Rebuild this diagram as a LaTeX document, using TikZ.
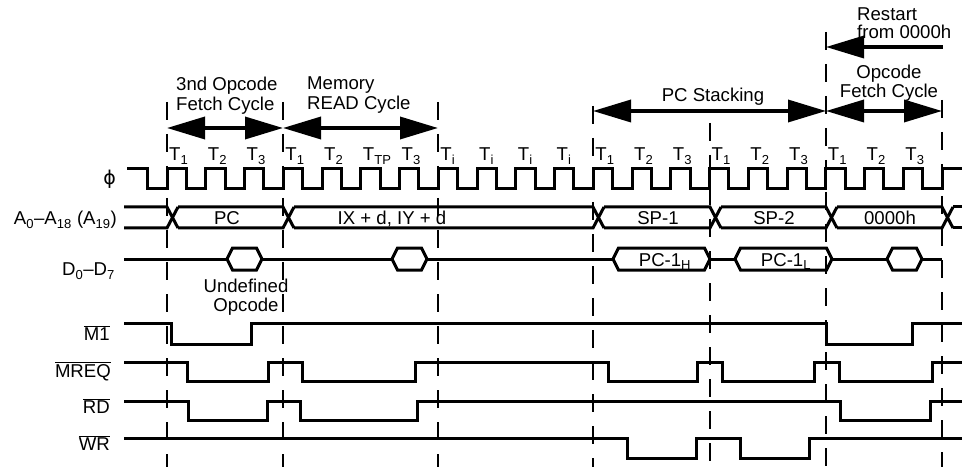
\documentclass[tikz,border=0pt]{standalone}
\usepackage{fontspec}
\setmainfont{Liberation Sans}
\newfontfamily\symfont{DejaVu Sans}
\usetikzlibrary{arrows.meta}

\tikzset{
  sig/.style={line width=3pt, line join=miter},
  dashline/.style={line width=2pt, dash pattern=on 18pt off 14pt},
  bigarrow/.style={line width=3.5pt, {Triangle[length=38pt,width=22pt]}-{Triangle[length=38pt,width=22pt]}},
  leftarrow/.style={line width=3.5pt, {Triangle[length=38pt,width=22pt]}-},
  every node/.style={inner sep=0pt, font=\fontsize{18.6}{19.5}\selectfont}
}

\begin{document}
\begin{tikzpicture}[x=1pt,y=-1pt]
\useasboundingbox (0,0) rectangle (962,468);

\def\xo{167}     % first T1 edge
\def\per{38.75}  % one T state
\pgfmathsetmacro\half{\per/2}
\def\tstates{1,2,3,1,2,TP,3,i,i,i,i,1,2,3,1,2,3,1,2,3}

% draw the cycle boundaries
\foreach \n/\ytop in {0/102,3/102,7/102,11/106,14/123,17/32,20/100}
{
\pgfmathsetmacro\cx{\xo+\n*\per}
\draw [dashline] (\cx,\ytop) -- (\cx,467);
}

% draw the clock
\draw [sig] (127,169) -- ({\xo-\half},169) -- ({\xo-\half},189) -- (\xo,189)
  \foreach \t in {0,...,19} { -- ({\xo+\t*\per},169) -- ({\xo+\t*\per+\half},169) -- ({\xo+\t*\per+\half},189) -- ({\xo+(\t+1)*\per},189) }
  -- ({\xo+20*\per},169) -- (962,169);

% label the T states
\foreach \s [count=\ni] in \tstates
{
\pgfmathsetmacro\cx{\xo+(\ni-1)*\per+2}
\node [anchor=base west] (T\ni) at (\cx,161) {T\textsubscript{\s}};
}

% signal names
\node [anchor=east] (phi) at (116,179) {\symfont\fontsize{19}{20}\selectfont ϕ};
\node [anchor=base east] (abus) at (117,225) {A\textsubscript{0}--A\textsubscript{18} (A\textsubscript{19})};
\node [anchor=base east] (dbus) at (115,276) {D\textsubscript{0}--D\textsubscript{7}};
\node [anchor=base east] (mone) at (110,340) {$\overline{\mbox{M1}}$};
\node [anchor=base east] (mreq) at (111,377) {$\overline{\mbox{MREQ}}$};
\node [anchor=base east] (rd) at (110,413) {$\overline{\mbox{RD}}$};
\node [anchor=base east] (wr) at (110,450) {$\overline{\mbox{WR}}$};

% draw the address bus
\foreach \a/\b in {124/167, 178/283, 294/593, 604/710, 721/826, 837/942}
\draw [sig] (\a,207) -- (\b,207) -- ({\b+11},228) (\a,228) -- (\b,228) -- ({\b+11},207);
\draw [sig] (953,207) -- (962,207) (953,228) -- (962,228);

\node [anchor=base] (pc) at (227,225) {PC};
\node [anchor=base] (ixiy) at (392,225) {IX + d, IY + d};
\node [anchor=base] (spone) at (658,225) {SP-1};
\node [anchor=base] (sptwo) at (774,225) {SP-2};
\node [anchor=base] (zero) at (890,225) {0000h};

% draw the data bus
\foreach \a/\b in {124/227, 262/392, 427/613, 710/735, 832/887, 922/942}
\draw [sig] (\a,259) -- (\b,259);
\foreach \a/\b in {227/262, 392/427, 613/710, 735/832, 887/922}
\draw [sig] (\a,259) -- ({\a+5.5},248) -- ({\b-5.5},248) -- (\b,259) -- ({\b-5.5},270) -- ({\a+5.5},270) -- cycle;

\node [anchor=base] (pch) at (665,266) {PC-1\textsubscript{H}};
\node [anchor=base] (pcl) at (786,266) {PC-1\textsubscript{L}};
\node [align=center] (undef) at (246,297) {Undefined\\Opcode};

% draw the control lines
\def\mOne{171,251,826,912}
\def\mreqEdges{187,268,302,415,608,697,722,814,839,932}
\def\rdEdges{188,267,300,417,840,930}
\def\wrEdges{627,696,740,809}
\draw [sig] (124,323) \foreach \x [count=\i] in \mOne { -| (\x,{323+mod(\i,2)*21}) } -- (962,323);
\draw [sig] (124,362) \foreach \x [count=\i] in \mreqEdges { -| (\x,{362+mod(\i,2)*19}) } -- (962,362);
\draw [sig] (124,401) \foreach \x [count=\i] in \rdEdges { -| (\x,{401+mod(\i,2)*19}) } -- (962,401);
\draw [sig] (124,438) \foreach \x [count=\i] in \wrEdges { -| (\x,{438+mod(\i,2)*20}) } -- (962,438);

% draw the cycle arrows
\coordinate (fetchL) at (167,128);
\coordinate (fetchR) at (283,128);
\coordinate (readR) at (438,128);
\coordinate (stackL) at (593,111);
\coordinate (stackR) at (826,111);
\coordinate (nextR) at (942,111);
\coordinate (rstL) at (826,47);
\coordinate (rstR) at (943,47);
\draw [bigarrow] (fetchL) -- (fetchR);
\draw [bigarrow] (fetchR) -- (readR);
\draw [bigarrow] (stackL) -- (stackR);
\draw [bigarrow] (stackR) -- (nextR);
\draw [leftarrow] (rstL) -- (rstR);

\node [align=left, anchor=west] (fetchtxt) at (176,95.5) {3nd Opcode\\Fetch Cycle};
\node [align=left, anchor=west] (readtxt) at (307,95) {Memory\\READ Cycle};
\node [anchor=base] (stacktxt) at (713,102) {PC Stacking};
\node [align=center] (nexttxt) at (889,83) {Opcode\\Fetch Cycle};
\node [align=left, anchor=west] (rsttxt) at (857,23) {Restart\\[-1pt]from 0000h};

\end{tikzpicture}
\end{document}
